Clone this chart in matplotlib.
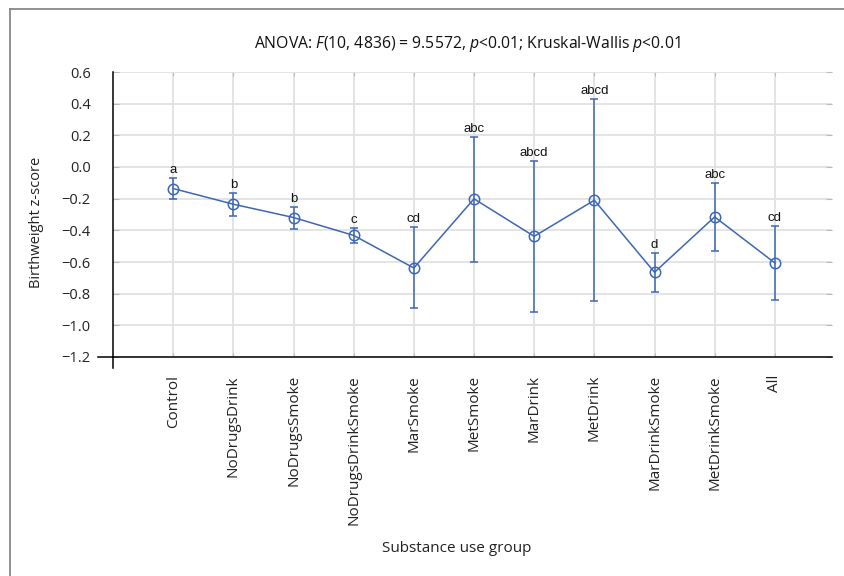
import matplotlib
matplotlib.use("Agg")
import matplotlib.pyplot as plt
from matplotlib.lines import Line2D
import numpy as np

groups = ["Control", "NoDrugsDrink", "NoDrugsSmoke", "NoDrugsDrinkSmoke", "MarSmoke",
          "MetSmoke", "MarDrink", "MetDrink", "MarDrinkSmoke", "MetDrinkSmoke", "All"]
means = [-0.136, -0.235, -0.319, -0.432, -0.638, -0.201, -0.438, -0.210, -0.665, -0.315, -0.606]
upper = [-0.067, -0.166, -0.252, -0.388, -0.382, 0.191, 0.038, 0.428, -0.543, -0.099, -0.371]
lower = [-0.203, -0.308, -0.390, -0.482, -0.891, -0.598, -0.913, -0.845, -0.787, -0.531, -0.839]
letters = ["a", "b", "b", "c", "cd", "abc", "abcd", "abcd", "d", "abc", "cd"]
yticks = [0.6, 0.4, 0.2, 0.0, -0.2, -0.4, -0.6, -0.8, -1.0, -1.2]

plt.rcParams['font.family'] = ['Open Sans', 'DejaVu Sans']
plt.rcParams['mathtext.fontset'] = 'custom'
plt.rcParams['mathtext.rm'] = 'Open Sans'
plt.rcParams['mathtext.it'] = 'Open Sans:italic'

W, H = 844, 576
fig = plt.figure(figsize=(W / 100, H / 100), dpi=100)
L, R, T, B = 113, 832, 72, 357
ax = fig.add_axes([L / W, 1 - B / H, (R - L) / W, (B - T) / H])

blue = "#3d67b5"
x = np.arange(len(groups))
m = np.array(means)
yerr = np.vstack([m - np.array(lower), np.array(upper) - m])

ax.errorbar(x, m, yerr=yerr, color=blue, lw=1.1, elinewidth=1.1, capsize=2.6, capthick=1.1,
            marker="o", markersize=7.5, markerfacecolor="none", markeredgecolor=blue,
            markeredgewidth=1.1, zorder=3)

for xi, u, t in zip(x, upper, letters):
    ax.annotate(t, (xi, u), xytext=(0, 1.5), textcoords="offset points", ha="center",
                va="bottom", fontsize=9.5, family="Liberation Sans", color="#111111")

ax.set_xlim(-1, 10.95)
ax.set_ylim(-1.2, 0.6)
ax.set_yticks(yticks)
ax.set_yticklabels([f"{v:.1f}".replace("-", "\u2212") for v in yticks], fontsize=10.5)
ax.set_xticks(x)
ax.set_xticklabels(groups, rotation=90, fontsize=11, va="top")
ax.grid(True, color="#e2e2e2", lw=1.3, zorder=0)
ax.set_axisbelow(True)

for s in ["top", "right"]:
    ax.spines[s].set_visible(False)
ax.spines["left"].set_linewidth(1.1)
ax.spines["bottom"].set_linewidth(1.1)
ax.tick_params(axis="y", direction="in", length=4, color="#bbbbbb", pad=16, right=True)
ax.tick_params(axis="x", direction="in", length=3, color="#bbbbbb", pad=13, top=True)
ax.tick_params(axis="both", which="major", labelcolor="#222222")

# extensions of the axes lines
ax.add_line(Line2D([0, 0], [0, -11 / (B - T)], transform=ax.transAxes, color="black",
                   lw=1.1, clip_on=False))
ax.add_line(Line2D([-15 / (R - L), 0], [0, 0], transform=ax.transAxes, color="black",
                   lw=1.1, clip_on=False))

fig.text(467 / W, 1 - 44 / H,
         r"ANOVA: $F$(10, 4836) = 9.5572, $p$<0.01; Kruskal-Wallis $p$<0.01",
         ha="center", va="center", fontsize=11.3, color="#111111")
fig.text(457 / W, 1 - 549 / H, "Substance use group", ha="center", va="center",
         fontsize=11, color="#222222")
fig.text(37 / W, 1 - 222 / H, "Birthweight z-score", ha="center", va="center",
         rotation=90, fontsize=10.5, color="#222222")

# outer frame
fig.add_artist(Line2D([10 / W, 10 / W], [0, 1 - 9 / H], transform=fig.transFigure,
                      color="#888888", lw=1.3))
fig.add_artist(Line2D([10 / W, 1], [1 - 9 / H, 1 - 9 / H], transform=fig.transFigure,
                      color="#888888", lw=1.3))

fig.savefig("out.png", dpi=100)
